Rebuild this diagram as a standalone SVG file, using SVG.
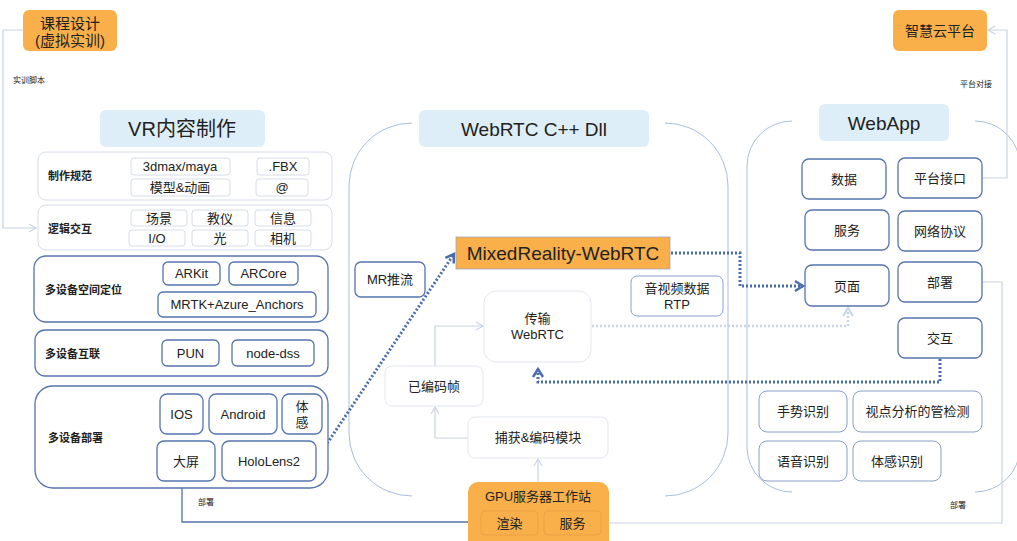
<svg xmlns="http://www.w3.org/2000/svg" width="1017" height="541" viewBox="0 0 1017 541">
<defs>
<style>
text{font-family:"Liberation Sans","Noto Sans CJK SC",sans-serif;fill:#222;text-anchor:middle;dominant-baseline:central}
.lb{font-size:11px;font-weight:bold;text-anchor:start}
.sm{font-size:8px;text-anchor:start}
.t13{font-size:13px}
.t14{font-size:14px}
.lt{fill:#fff;stroke:#D6DDE8;stroke-width:1}
.bl{fill:#fff;stroke:#5574AE;stroke-width:1.3}
.gb{fill:#fff;stroke:#8AA0C6;stroke-width:1}
.vl{fill:#fff;stroke:#E3E8EF;stroke-width:1}
.or{fill:#F9B04A;stroke:none}
.ti{fill:#DDEEF8;stroke:none}
.cont{fill:none;stroke:#A9BEDC;stroke-width:1}
.ln{fill:none;stroke:#C9D4E4;stroke-width:1.2}
.lnb{fill:none;stroke:#5574AE;stroke-width:1.3}
.dot{fill:none;stroke:#4A6DB0;stroke-width:3;stroke-dasharray:2 2}
.dotl{fill:none;stroke:#C9D4E6;stroke-width:2.5;stroke-dasharray:2 2}
</style>
<marker id="al" markerWidth="10" markerHeight="10" refX="8" refY="5" orient="auto" markerUnits="userSpaceOnUse"><path d="M1,1 L8,5 L1,9" fill="none" stroke="#C9D4E4" stroke-width="1.2"/></marker>
<marker id="ab" markerWidth="12" markerHeight="12" refX="9" refY="6" orient="auto" markerUnits="userSpaceOnUse"><path d="M1,1 L9,6 L1,11" fill="none" stroke="#5574AE" stroke-width="1.3"/></marker>
<marker id="ad" markerWidth="14" markerHeight="14" refX="10" refY="7" orient="auto" markerUnits="userSpaceOnUse"><path d="M2,2 L10,7 L2,12" fill="none" stroke="#4A6DB0" stroke-width="2.5"/></marker>
<marker id="adl" markerWidth="14" markerHeight="14" refX="10" refY="7" orient="auto" markerUnits="userSpaceOnUse"><path d="M2,2 L10,7 L2,12" fill="none" stroke="#C9D4E6" stroke-width="2"/></marker>
</defs>
<rect width="1017" height="541" fill="#fff"/>

<g id="containers">
<path class="cont" d="M412,123 A63,63 0 0 0 349,186 V433 A63,63 0 0 0 412,496"/>
<path class="cont" d="M665,123 A63,63 0 0 1 728,186 V433 A63,63 0 0 1 665,496"/>
<path class="cont" d="M792,121 A45,45 0 0 0 747,166 V447 A45,45 0 0 0 792,492"/>
<path class="cont" d="M975,121 A45,45 0 0 1 1020,166 V447 A45,45 0 0 1 975,492"/>
</g>

<g id="connectors">
<path class="ln" d="M23,30 H3 V228 H36" marker-end="url(#al)"/>
<path class="ln" d="M230,166 H256" marker-end="url(#al)"/>
<path class="ln" d="M230,187 H255" marker-end="url(#al)"/>
<path class="lnb" d="M182,488 V522 H479" marker-end="url(#ab)"/>
<path class="ln" d="M982,178 H1007 V30 H988" marker-end="url(#al)"/>
<path class="ln" d="M982,282 H1002 V523 H602" marker-end="url(#al)"/>
<path class="ln" d="M538,482 V459" marker-end="url(#al)"/>
<path class="ln" d="M468,438 H435 V407" marker-end="url(#al)"/>
<path class="ln" d="M435,366 V326 H483" marker-end="url(#al)"/>
<path class="dot" d="M316,460 L454,254" marker-end="url(#ad)"/>
<path class="dot" d="M671,253 H740 V286 H803" marker-end="url(#ad)"/>
<path class="dot" d="M940,359 V382 H538 V369" marker-end="url(#ad)"/>
<path class="dotl" d="M592,326 H848 V308" marker-end="url(#adl)"/>
</g>

<g id="n-kecheng"><rect class="or" x="23" y="10" width="94" height="41" rx="6"/><text class="t14" x="70" y="23" style="font-size:15px">课程设计</text><text x="70" y="40" style="font-size:15px">(虚拟实训)</text></g>
<text class="sm" x="13" y="80">实训脚本</text>

<g id="n-vrtitle"><rect class="ti" x="100" y="110" width="165" height="37" rx="6"/><text x="182" y="129" style="font-size:20px">VR内容制作</text></g>

<g id="n-zhizuo">
<rect class="lt" x="38" y="152" width="294" height="48" rx="8"/>
<text class="lb" x="48" y="176">制作规范</text>
<rect class="lt" x="131" y="158" width="99" height="17" rx="3"/><text class="t13" x="180" y="166.5">3dmax/maya</text>
<rect class="lt" x="257" y="158" width="52" height="17" rx="3"/><text class="t13" x="283" y="166.5">.FBX</text>
<rect class="lt" x="131" y="179" width="99" height="17" rx="3"/><text class="t13" x="180" y="187.5">模型&amp;动画</text>
<rect class="lt" x="256" y="179" width="52" height="17" rx="3"/><text class="t13" x="282" y="187.5">@</text>
</g>

<g id="n-luoji">
<rect class="lt" x="38" y="205" width="294" height="45" rx="8"/>
<text class="lb" x="48" y="229">逻辑交互</text>
<rect class="lt" x="131" y="210" width="56" height="16" rx="3"/><text class="t13" x="159" y="218">场景</text>
<rect class="lt" x="192" y="210" width="56" height="16" rx="3"/><text class="t13" x="220" y="218">教仪</text>
<rect class="lt" x="255" y="210" width="56" height="16" rx="3"/><text class="t13" x="283" y="218">信息</text>
<rect class="lt" x="129" y="230" width="56" height="16" rx="3"/><text class="t13" x="157" y="238">I/O</text>
<rect class="lt" x="192" y="230" width="56" height="16" rx="3"/><text class="t13" x="220" y="238">光</text>
<rect class="lt" x="255" y="230" width="56" height="16" rx="3"/><text class="t13" x="283" y="238">相机</text>
</g>

<g id="n-kongjian">
<rect class="bl" x="34" y="256" width="294" height="66" rx="12"/>
<text class="lb" x="45" y="290">多设备空间定位</text>
<rect class="bl" x="163" y="262" width="57" height="23" rx="5"/><text class="t13" x="191.5" y="273.5">ARKit</text>
<rect class="bl" x="229" y="262" width="69" height="23" rx="5"/><text class="t13" x="263.5" y="273.5">ARCore</text>
<rect class="bl" x="158" y="292" width="158" height="25" rx="5"/><text class="t13" x="237" y="304.5">MRTK+Azure_Anchors</text>
</g>

<g id="n-hulian">
<rect class="bl" x="35" y="330" width="293" height="46" rx="10"/>
<text class="lb" x="45" y="354">多设备互联</text>
<rect class="bl" x="162" y="340" width="57" height="26" rx="5"/><text class="t13" x="190.5" y="353">PUN</text>
<rect class="bl" x="232" y="340" width="82" height="26" rx="5"/><text class="t13" x="273" y="353">node-dss</text>
</g>

<g id="n-bushu">
<rect class="bl" x="35" y="386" width="293" height="102" rx="18"/>
<text class="lb" x="48" y="438">多设备部署</text>
<rect class="bl" x="160" y="394" width="43" height="40" rx="7"/><text class="t13" x="181.5" y="414">IOS</text>
<rect class="bl" x="209" y="394" width="68" height="40" rx="7"/><text class="t13" x="243" y="414">Android</text>
<rect class="bl" x="282" y="394" width="40" height="40" rx="7"/><text class="t13" x="302" y="406">体</text><text class="t13" x="302" y="422">感</text>
<rect class="bl" x="157" y="441" width="58" height="40" rx="7"/><text class="t13" x="186" y="461">大屏</text>
<rect class="bl" x="222" y="441" width="94" height="40" rx="7"/><text class="t13" x="269" y="461">HoloLens2</text>
</g>
<text class="sm" x="198" y="502">部署</text>

<g id="n-webrtctitle"><rect class="ti" x="419" y="110" width="230" height="37" rx="6"/><text x="534" y="129" style="font-size:19px">WebRTC C++ Dll</text></g>

<g id="n-mixed"><rect x="456" y="237" width="214" height="32" fill="#F9B04A" stroke="#A0A8B8" stroke-width="0.8"/><text x="563" y="253.5" style="font-size:19px">MixedReality-WebRTC</text></g>

<g id="n-mrtl"><rect class="bl" x="355" y="262" width="70" height="35" rx="6"/><text class="t13" x="390" y="279.5">MR推流</text></g>

<g id="n-rtp"><rect class="gb" x="631" y="276" width="92" height="40" rx="6"/><text class="t13" x="677" y="288">音视频数据</text><text class="t13" x="677" y="304">RTP</text></g>

<g id="n-chuanshu"><rect class="vl" x="484" y="291" width="107" height="71" rx="12"/><text class="t13" x="537.5" y="318">传输</text><text class="t13" x="537.5" y="334">WebRTC</text></g>

<g id="n-bianma"><rect class="vl" x="385" y="366" width="98" height="40" rx="7"/><text class="t13" x="434" y="386">已编码帧</text></g>

<g id="n-buhuo"><rect class="vl" x="468" y="417" width="140" height="41" rx="7"/><text class="t13" x="538" y="437.5">捕获&amp;编码模块</text></g>

<g id="n-gpu">
<rect class="or" x="468" y="482" width="141" height="68" rx="10"/>
<text class="t13" x="538" y="496">GPU服务器工作站</text>
<rect x="481" y="511" width="57" height="24" rx="4" fill="#F9B04A" stroke="#EBA144" stroke-width="1"/><text class="t13" x="509.5" y="523">渲染</text>
<rect x="544" y="511" width="57" height="24" rx="4" fill="#F9B04A" stroke="#EBA144" stroke-width="1"/><text class="t13" x="572.5" y="523">服务</text>
</g>

<g id="n-zhihui"><rect class="or" x="893" y="10" width="94" height="41" rx="6"/><text x="940" y="31" style="font-size:14px">智慧云平台</text></g>
<text class="sm" x="960" y="84">平台对接</text>

<g id="n-webapptitle"><rect class="ti" x="819" y="104" width="130" height="37" rx="6"/><text x="884" y="123" style="font-size:19px">WebApp</text></g>

<g id="n-shuju"><rect class="bl" x="802" y="159" width="84" height="40" rx="7"/><text class="t13" x="844" y="179">数据</text></g>
<g id="n-jiekou"><rect class="bl" x="898" y="158" width="84" height="40" rx="7"/><text class="t13" x="940" y="178">平台接口</text></g>
<g id="n-fuwu"><rect class="bl" x="805" y="210" width="84" height="40" rx="7"/><text class="t13" x="847" y="230">服务</text></g>
<g id="n-xieyi"><rect class="bl" x="898" y="211" width="84" height="40" rx="7"/><text class="t13" x="940" y="231">网络协议</text></g>
<g id="n-yemian"><rect class="bl" x="805" y="265" width="84" height="41" rx="7"/><text class="t13" x="847" y="286">页面</text></g>
<g id="n-bushu2"><rect class="bl" x="898" y="262" width="84" height="40" rx="7"/><text class="t13" x="940" y="282">部署</text></g>
<g id="n-jiaohu"><rect class="bl" x="898" y="318" width="84" height="40" rx="7"/><text class="t13" x="940" y="338">交互</text></g>
<g id="n-shoushi"><rect class="gb" x="759" y="391" width="88" height="41" rx="8"/><text class="t13" x="803" y="411.5">手势识别</text></g>
<g id="n-shidian"><rect class="gb" x="853" y="391" width="129" height="41" rx="8"/><text class="t13" x="917.5" y="411.5">视点分析的管检测</text></g>
<g id="n-yuyin"><rect class="gb" x="759" y="441" width="88" height="40" rx="8"/><text class="t13" x="803" y="461">语音识别</text></g>
<g id="n-tigan"><rect class="gb" x="853" y="441" width="88" height="40" rx="8"/><text class="t13" x="897" y="461">体感识别</text></g>
<text class="sm" x="950" y="505">部署</text>
</svg>
